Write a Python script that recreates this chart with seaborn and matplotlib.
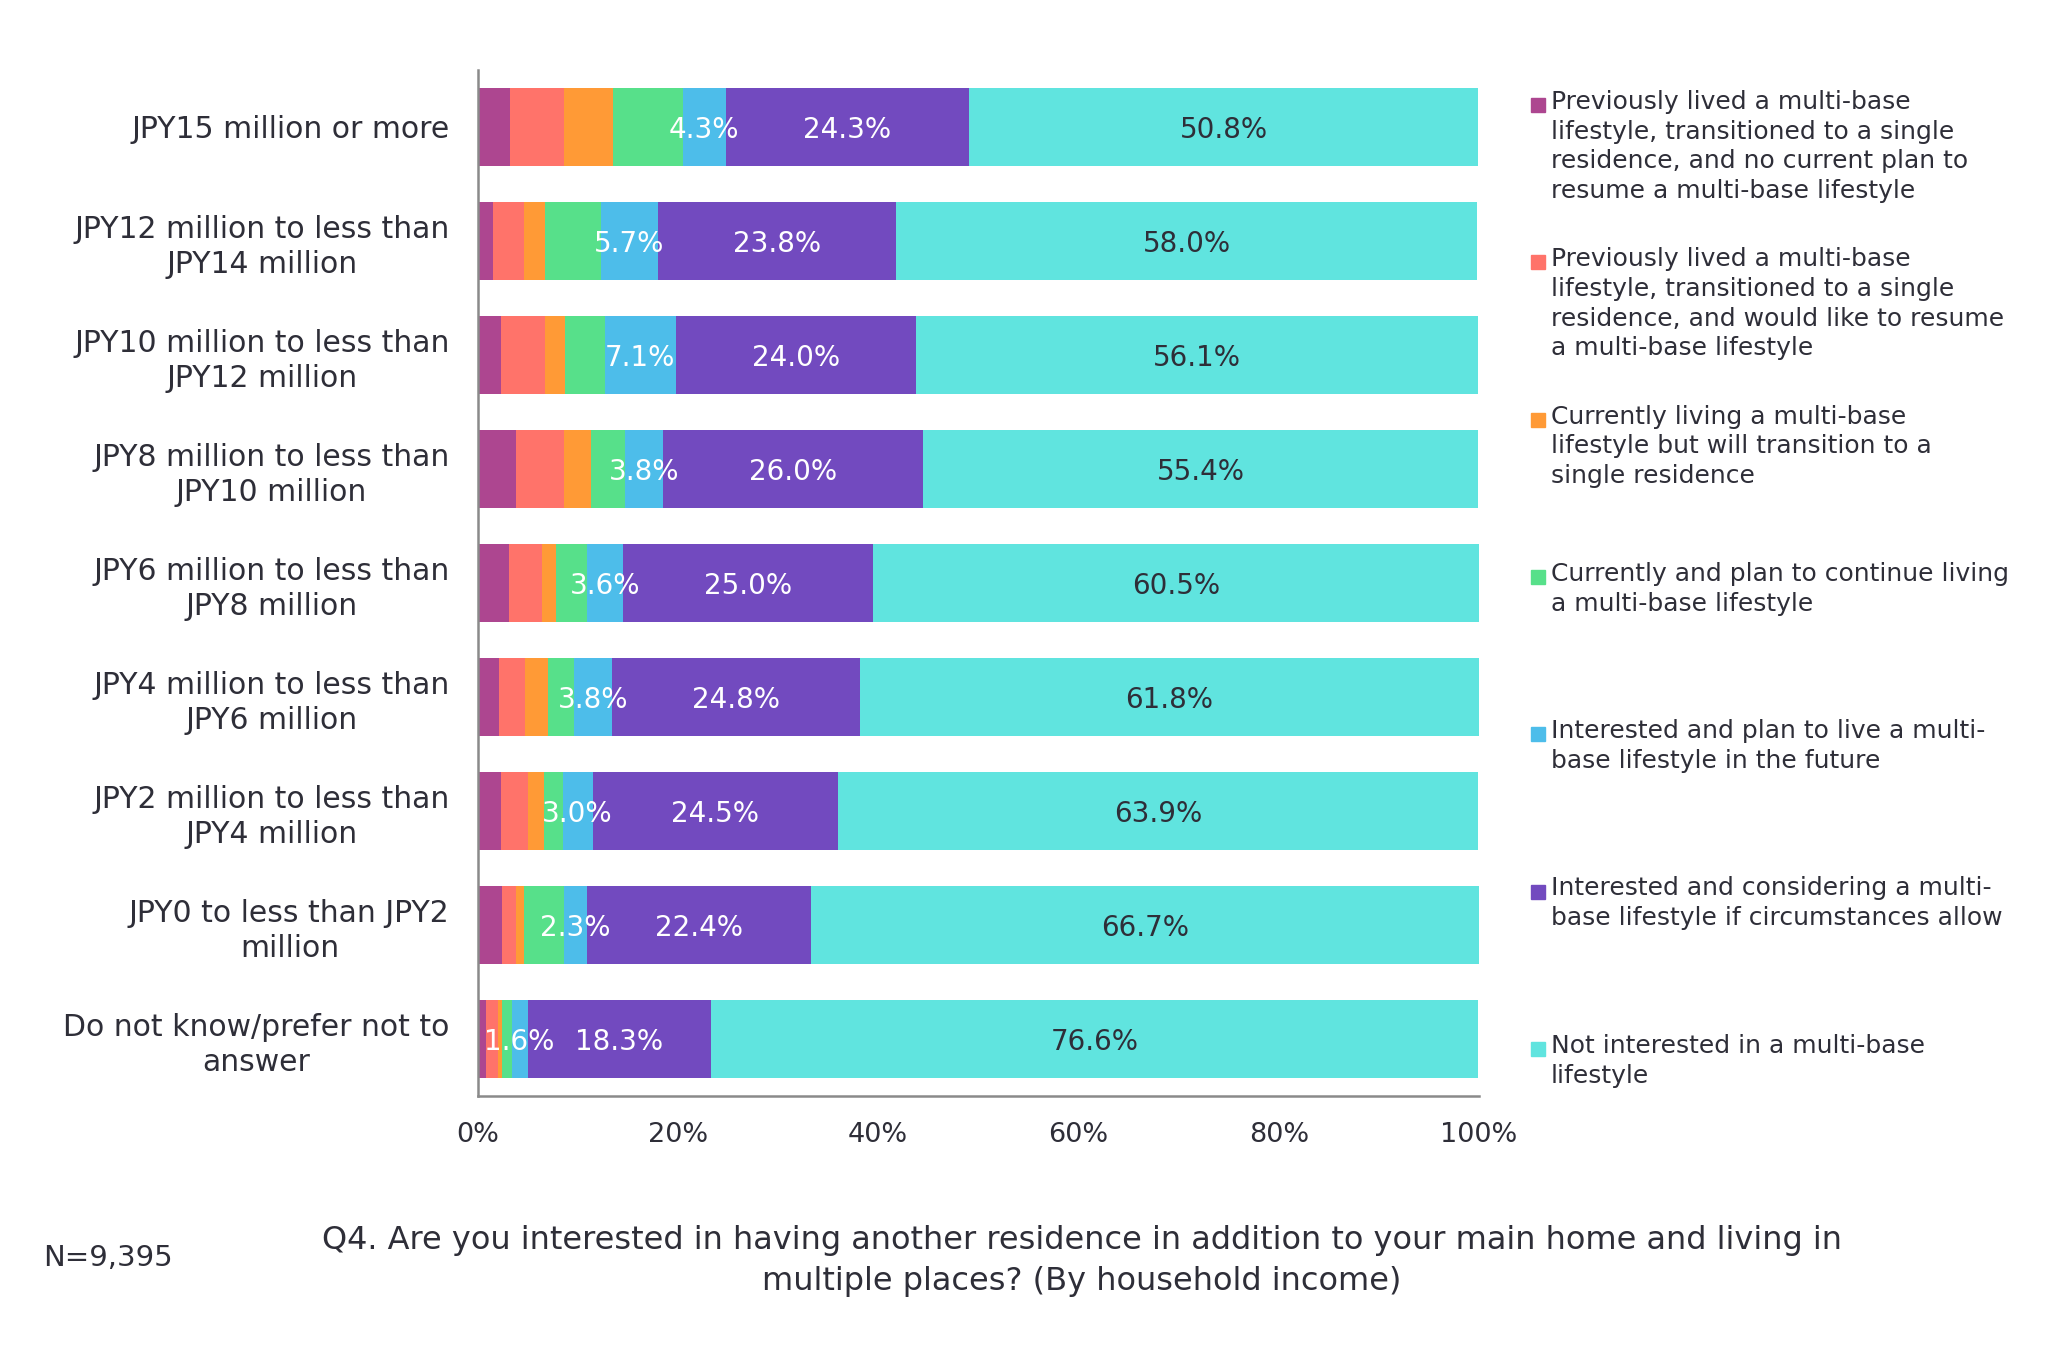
import matplotlib
matplotlib.use("Agg")
import matplotlib.pyplot as plt
import seaborn as sns
import numpy as np
import pandas as pd
from matplotlib.patches import Rectangle

categories = [
    "JPY15 million or more",
    "JPY12 million to less than\nJPY14 million",
    "JPY10 million to less than\nJPY12 million",
    "JPY8 million to less than\nJPY10 million",
    "JPY6 million to less than\nJPY8 million",
    "JPY4 million to less than\nJPY6 million",
    "JPY2 million to less than\nJPY4 million",
    "JPY0 to less than JPY2\nmillion",
    "Do not know/prefer not to\nanswer",
]

series_names = [
    "Previously lived a multi-base\nlifestyle, transitioned to a single\nresidence, and no current plan to\nresume a multi-base lifestyle",
    "Previously lived a multi-base\nlifestyle, transitioned to a single\nresidence, and would like to resume\na multi-base lifestyle",
    "Currently living a multi-base\nlifestyle but will transition to a\nsingle residence",
    "Currently and plan to continue living\na multi-base lifestyle",
    "Interested and plan to live a multi-\nbase lifestyle in the future",
    "Interested and considering a multi-\nbase lifestyle if circumstances allow",
    "Not interested in a multi-base\nlifestyle",
]

prev_no_plan = [3.2, 1.5, 2.3, 3.8, 3.1, 2.1, 2.3, 2.4, 0.8]
prev_resume = [5.4, 3.1, 4.4, 4.8, 3.3, 2.6, 2.7, 1.4, 1.2]
current_transition = [4.9, 2.1, 2.0, 2.7, 1.4, 2.3, 1.6, 0.8, 0.4]
current_continue = [7.0, 5.6, 4.0, 3.4, 3.1, 2.6, 1.9, 4.0, 1.0]
plan_future = [4.3, 5.7, 7.1, 3.8, 3.6, 3.8, 3.0, 2.3, 1.6]
considering = [24.3, 23.8, 24.0, 26.0, 25.0, 24.8, 24.5, 22.4, 18.3]
not_interested = [50.8, 58.0, 56.1, 55.4, 60.5, 61.8, 63.9, 66.7, 76.6]

x_ticks = [0, 20, 40, 60, 80, 100]
x_tick_labels = ["0%", "20%", "40%", "60%", "80%", "100%"]

note_text = "N=9,395"
caption_text = ("Q4. Are you interested in having another residence in addition to your main home and living in\n"
                "multiple places? (By household income)")

colors = ["#AD4690", "#FF736A", "#FF9A36", "#57E08A", "#4DBDEA", "#724ABF", "#60E4DF"]
label_colors = {4: "white", 5: "white", 6: "#2E2E38"}
text_color = "#2E2E38"

FONT = ["DejaVu Sans"]
sns.set_theme(style="white")
plt.rcParams["font.family"] = FONT
plt.rcParams["text.color"] = text_color

series = [prev_no_plan, prev_resume, current_transition, current_continue,
          plan_future, considering, not_interested]
df = pd.DataFrame({"category": categories})
for i, s in enumerate(series):
    df[f"s{i}"] = s
vals = df[[f"s{i}" for i in range(len(series))]].to_numpy()
cum = np.cumsum(vals, axis=1)
for i in range(len(series)):
    df[f"c{i}"] = cum[:, i]

W, H = 2048, 1365
fig = plt.figure(figsize=(W / 100, H / 100), dpi=100)
ax_l, ax_r, ax_t, ax_b = 477.5, 1479, 70, 1096
ax = fig.add_axes([ax_l / W, 1 - ax_b / H, (ax_r - ax_l) / W, (ax_b - ax_t) / H])

for i in reversed(range(len(series))):
    sns.barplot(data=df, x=f"c{i}", y="category", color=colors[i], orient="h",
                width=0.69, errorbar=None, saturation=1, ax=ax, linewidth=0)

# labels
for i, col in label_colors.items():
    for j in range(len(categories)):
        left = cum[j, i] - vals[j, i]
        center = left + vals[j, i] / 2
        ax.text(center, j, f"{vals[j, i]:.1f}%", ha="center", va="center_baseline",
                color=col, fontsize=20)

ax.set_xlim(0, 100)
ax.set_ylim(len(categories) - 0.5, -0.5)
ax.set_xticks(x_ticks)
ax.set_xticklabels(x_tick_labels, fontsize=19.5)
ax.set_xlabel("")
ax.set_ylabel("")
ax.tick_params(axis="y", length=0, pad=20, labelsize=21.5, labelcolor=text_color)
ax.tick_params(axis="x", length=0, pad=19, labelcolor=text_color)
for t in ax.get_yticklabels():
    t.set_multialignment("center")
    t.set_linespacing(1.25)
for s in ["top", "right"]:
    ax.spines[s].set_visible(False)
for s in ["left", "bottom"]:
    ax.spines[s].set_color("#8a8a8a")
    ax.spines[s].set_linewidth(1.8)
ax.grid(False)

# legend (manual)
first_line_y = 106
spacing = 157.3
for i, name in enumerate(series_names):
    yc = first_line_y + i * spacing
    fig.patches.append(Rectangle((1531 / W, 1 - (yc + 6) / H), 14 / W, 14 / H,
                                 transform=fig.transFigure, color=colors[i], figure=fig))
    fig.text(1551 / W, 1 - (yc - 16) / H, name, ha="left", va="top",
             fontsize=18, linespacing=1.3, color=text_color)

fig.text(43 / W, 1 - 1258 / H, note_text, ha="left", va="center", fontsize=21, color=text_color)
fig.text(1082 / W, 1 - 1261 / H, caption_text, ha="center", va="center", fontsize=23,
         linespacing=1.45, color=text_color)

fig.savefig("out.png", dpi=100, facecolor="white")
